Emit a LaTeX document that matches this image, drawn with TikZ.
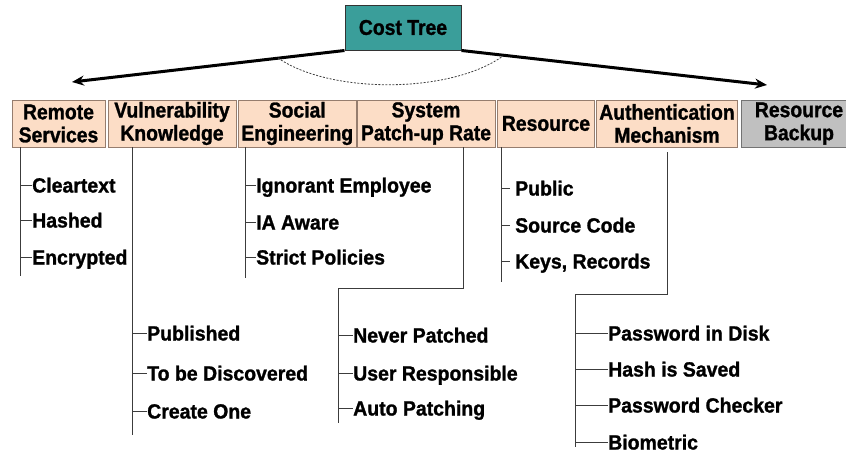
\documentclass[tikz,border=0pt]{standalone}
\usepackage{fontspec}
\setmainfont{Liberation Sans}
\newfontfamily\hdrfont[FakeStretch=0.9, BoldFeatures={FakeBold=1.2}]{Liberation Sans}
\newfontfamily\kidfont[FakeStretch=0.95, BoldFeatures={FakeBold=1.2}]{Liberation Sans}
\usetikzlibrary{arrows.meta}
\definecolor{peach}{RGB}{252,221,198}
\definecolor{peachline}{RGB}{150,125,110}
\definecolor{teal2}{RGB}{58,158,154}
\definecolor{greybox}{RGB}{192,192,192}
\definecolor{treeline}{RGB}{60,60,60}
\tikzset{
  hdr/.style={draw=peachline, fill=peach, line width=0.9pt, minimum height=47pt, inner sep=0pt,
    align=center, font=\hdrfont\bfseries\fontsize{21.5}{23}\selectfont},
  kid/.style={anchor=west, inner sep=0pt, text height=15pt, text depth=0pt,
    font=\kidfont\bfseries\fontsize{20.5}{22}\selectfont},
  tree/.style={draw=treeline, line width=0.9pt},
  bigarrow/.style={line width=3pt, -{Stealth[length=12pt,width=10pt]}},
}
\begin{document}
\begin{tikzpicture}[x=1pt,y=-1pt]
\useasboundingbox (0,0) rectangle (846,455);
% root
\node[draw=black!80, fill=teal2, line width=1pt, minimum width=116pt, minimum height=45pt,
  font=\hdrfont\bfseries\fontsize{21.5}{23}\selectfont] (ct) at (403,27.5) {Cost Tree};
\coordinate (la) at (72,82);
\coordinate (ra) at (767,85);
\draw[bigarrow] (ct.south west) -- (la);
\draw[bigarrow] (ct.south east) -- (ra);
\coordinate (d1) at (278,58);
\coordinate (d2) at (503,56);
\draw[line width=0.8pt, black!75, dash pattern=on 2pt off 1.5pt] (d1) .. controls (330,94) and (450,94) .. (d2);
% headers
\node[hdr, minimum width=93pt] (rs) at (58.5,123.5) {Remote\\Services};
\node[hdr, minimum width=128pt] (vk) at (172,123.5) {Vulnerability\\Knowledge};
\node[hdr, minimum width=117.5pt] (se) at (297.25,123.5) {Social\\Engineering};
\node[hdr, minimum width=138pt] (sp) at (426,123.5) {System\\Patch-up Rate};
\node[hdr, minimum width=96.5pt] (res) at (546,123.5) {Resource};
\node[hdr, minimum width=141pt] (am) at (667,123.5) {Authentication\\Mechanism};
\node[hdr, minimum width=116pt, fill=greybox, draw=black!55] (rb) at (799,123.5) {Resource\\Backup};
% Remote Services
\coordinate (rsT) at (20,147); \coordinate (rsB) at (20,276);
\draw[tree] (rsT) -- (rsB);
\node[kid] (c1) at (32,185) {Cleartext};
\node[kid] (c2) at (32,220) {Hashed};
\node[kid] (c3) at (32,257) {Encrypted};
\foreach \n in {c1,c2,c3} \draw[tree] (\n.west -| rsT) -- (\n.west);
% Vulnerability Knowledge
\coordinate (vkT) at (132,147); \coordinate (vkB) at (132,435);
\draw[tree] (vkT) -- (vkB);
\node[kid] (v1) at (147,333) {Published};
\node[kid] (v2) at (147,373) {To be Discovered};
\node[kid] (v3) at (147,411) {Create One};
\foreach \n in {v1,v2,v3} \draw[tree] (\n.west -| vkT) -- (\n.west);
% Social Engineering
\coordinate (seT) at (245,147); \coordinate (seB) at (245,278);
\draw[tree] (seT) -- (seB);
\node[kid] (s1) at (256,185) {Ignorant Employee};
\node[kid] (s2) at (256,222) {IA Aware};
\node[kid] (s3) at (256,257) {Strict Policies};
\foreach \n in {s1,s2,s3} \draw[tree] (\n.west -| seT) -- (\n.west);
% System Patch-up Rate
\coordinate (spT) at (463,147); \coordinate (spK) at (338,288); \coordinate (spB) at (338,423);
\draw[tree] (spT) |- (spK) -- (spB);
\node[kid] (p1) at (353,335) {Never Patched};
\node[kid] (p2) at (353,373) {User Responsible};
\node[kid] (p3) at (353,408) {Auto Patching};
\foreach \n in {p1,p2,p3} \draw[tree] (\n.west -| spB) -- (\n.west);
% Resource
\coordinate (reT) at (501,147); \coordinate (reB) at (501,282);
\draw[tree] (reT) -- (reB);
\node[kid] (r1) at (515,188) {Public};
\node[kid] (r2) at (515,225) {Source Code};
\node[kid] (r3) at (515,261) {Keys, Records};
\foreach \n in {r1,r2,r3} \draw[tree] (\n.west -| reT) -- ([xshift=-5pt]\n.west);
% Authentication Mechanism
\coordinate (amT) at (667,152); \coordinate (amK) at (575,294); \coordinate (amB) at (575,447);
\draw[tree] (amT) |- (amK) -- (amB);
\node[kid] (a1) at (608,333) {Password in Disk};
\node[kid] (a2) at (608,369) {Hash is Saved};
\node[kid] (a3) at (608,405) {Password Checker};
\node[kid] (a4) at (608,442) {Biometric};
\foreach \n in {a1,a2,a3,a4} \draw[tree] (\n.west -| amB) -- (\n.west);
\end{tikzpicture}
\end{document}
